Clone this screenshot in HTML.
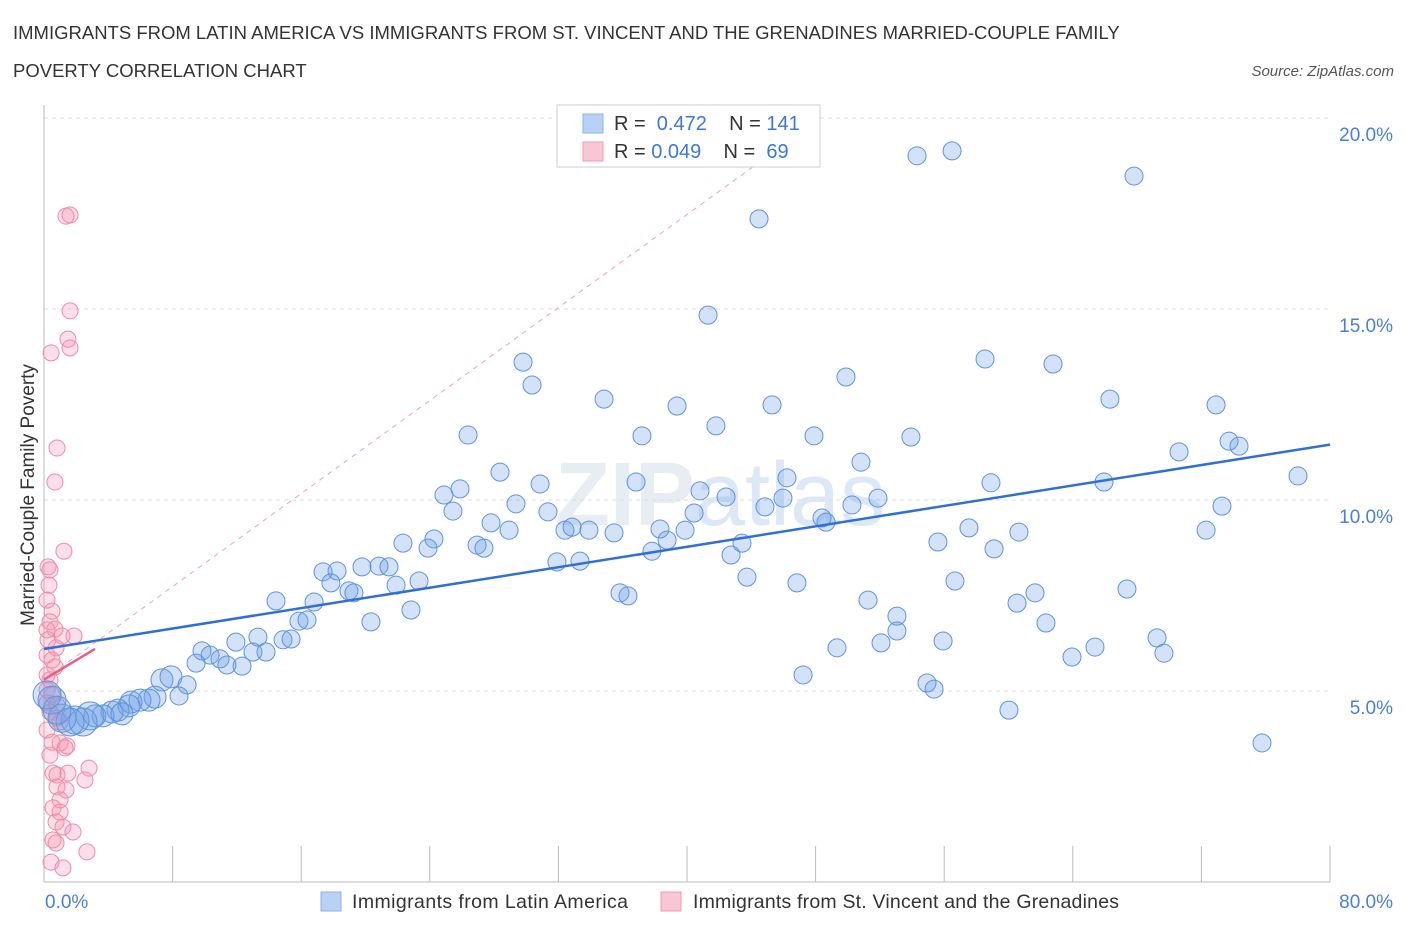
<!DOCTYPE html>
<html><head><meta charset="utf-8"><style>
body{margin:0;background:#fff;font-family:"Liberation Sans",sans-serif;}
</style></head><body>
<svg width="1406" height="930" xmlns="http://www.w3.org/2000/svg">
<text x="13" y="39" font-size="18.5" fill="#333">IMMIGRANTS FROM LATIN AMERICA VS IMMIGRANTS FROM ST. VINCENT AND THE GRENADINES MARRIED-COUPLE FAMILY</text>
<text x="13" y="77" font-size="18.5" fill="#333">POVERTY CORRELATION CHART</text>
<text x="1394" y="76" font-size="15" fill="#555" font-style="italic" text-anchor="end">Source: ZipAtlas.com</text>
<text x="720" y="525" font-size="90" fill="#e8edf3" text-anchor="middle" font-weight="bold">ZIP<tspan fill="#dde8f6" font-weight="normal">atlas</tspan></text>
<g id="grid"></g>
<g id="axes"></g>
<g id="pts"></g>
<g id="lines"></g>
<text transform="translate(34,495) rotate(-90)" font-size="19" fill="#333" text-anchor="middle">Married-Couple Family Poverty</text>
<text x="45" y="908" font-size="19" fill="#4a7fd6">0.0%</text>
<text x="1393" y="908" font-size="19" fill="#4a7fd6" text-anchor="end">80.0%</text>
<g>
<rect x="557" y="105" width="263" height="62" fill="#fff" stroke="#ccc"/>
<rect x="583" y="114" width="20" height="19" fill="#b9d1f4" stroke="#8fb2e8"/>
<rect x="583" y="142" width="20" height="19" fill="#f9c6d5" stroke="#f09ab4"/>
<text x="614" y="130" font-size="20" fill="#333" xml:space="preserve">R =  <tspan fill="#3b78d8">0.472</tspan>    N = <tspan fill="#3b78d8">141</tspan></text>
<text x="614" y="158" font-size="20" fill="#333" xml:space="preserve">R = <tspan fill="#3b78d8">0.049</tspan>    N =  <tspan fill="#3b78d8">69</tspan></text>
</g>
<g>
<rect x="321" y="892" width="20" height="19" fill="#b9d1f4" stroke="#8fb2e8"/>
<text x="352" y="908" font-size="19.5" fill="#333" textLength="276">Immigrants from Latin America</text>
<rect x="661" y="892" width="20" height="19" fill="#f9c6d5" stroke="#f09ab4"/>
<text x="693" y="908" font-size="19.5" fill="#333" textLength="426">Immigrants from St. Vincent and the Grenadines</text>
</g>
</svg>
<script>
const yTicks=[5,10,15,20];
const yTickLabels=["5.0%","10.0%","15.0%","20.0%"];
const xTicks=[0,8,16,24,32,40,48,56,64,72,80];
const bluePx=[[917,156],[952,151],[1134,176],[759,219],[708,315],[523,362],[532,385],[985,359],[1053,364],[846,377],[604,399],[677,406],[772,405],[1110,399],[1216,405],[468,435],[642,436],[716,426],[814,436],[911,437],[1229,441],[1239,446],[1179,452],[500,472],[540,484],[636,482],[861,462],[787,478],[1298,476],[460,489],[444,495],[700,491],[726,497],[783,498],[991,483],[1104,482],[878,498],[852,505],[516,504],[453,511],[548,512],[694,513],[765,507],[1222,506],[491,523],[509,530],[565,530],[572,527],[589,530],[614,533],[660,529],[685,530],[826,522],[822,518],[969,528],[1019,532],[1206,530],[403,543],[434,539],[477,545],[484,548],[667,540],[742,543],[938,542],[994,549],[428,548],[557,562],[580,561],[652,551],[731,555],[323,572],[337,571],[362,567],[379,566],[389,567],[331,583],[349,591],[354,593],[396,585],[419,581],[747,577],[797,583],[955,581],[620,593],[628,596],[1127,589],[1035,593],[276,601],[314,602],[411,610],[868,600],[897,616],[1017,603],[299,621],[307,620],[371,622],[897,631],[283,640],[291,639],[258,637],[236,642],[943,641],[1046,623],[1157,638],[1095,647],[1072,657],[1164,653],[837,648],[881,643],[202,651],[210,655],[220,659],[253,652],[266,652],[227,665],[242,666],[196,663],[803,675],[927,683],[934,689],[1009,710],[1262,743],[162,680],[171,677],[187,685],[179,696],[155,697],[149,700],[140,700],[131,702],[129,706],[118,710],[112,712],[103,716],[95,716],[90,716],[83,722],[75,720],[70,722],[62,718],[52,700],[57,710],[122,714],[47,695]];
const pinkPx=[[66,216],[70,215],[70,311],[68,339],[70,348],[51,353],[57,448],[55,482],[64,551],[48,567],[50,570],[52,611],[50,622],[55,629],[47,630],[74,636],[62,636],[56,648],[47,655],[55,667],[50,680],[47,690],[52,695],[47,703],[50,712],[57,718],[60,722],[47,730],[52,742],[60,743],[67,746],[65,748],[50,755],[89,768],[53,773],[57,775],[68,773],[85,780],[57,787],[66,790],[60,800],[53,808],[60,812],[56,822],[63,827],[73,832],[53,840],[56,843],[87,852],[51,862],[63,868],[49,585],[47,600],[48,640],[52,660],[47,675],[57,705]];
const blueX=bluePx.map(p=>+((p[0]-44)/1286*80).toFixed(2));
const blueY=bluePx.map(p=>+((882-p[1])/191*5).toFixed(2));
const pinkX=pinkPx.map(p=>+((p[0]-44)/1286*80).toFixed(2));
const pinkY=pinkPx.map(p=>+((882-p[1])/191*5).toFixed(2));
const blueTrend=[6.1,11.45];
const pinkTrend=[5.3,6.1];
const pinkDashEnd=[48.3,20];
const NS="http://www.w3.org/2000/svg";
const X=v=>44+v/80*1286, Y=v=>882-v/5*191;
function mk(tag,attrs,parent){const e=document.createElementNS(NS,tag);for(const k in attrs)e.setAttribute(k,attrs[k]);document.getElementById(parent).appendChild(e);return e;}
yTicks.forEach((t,i)=>{
 const l=mk('line',{x1:44,x2:1330,y1:Y(t),y2:Y(t),stroke:'#ddd','stroke-dasharray':'4,4'},'grid');
 
 
 const tx=mk('text',{x:1393,y:Y(t)+23,'font-size':19,fill:'#4a7fd6','text-anchor':'end'},'grid');
 tx.textContent=yTickLabels[i];
 
 
});
const ax=mk('line',{x1:44,x2:44,y1:105,y2:882,stroke:'#bbb'},'axes');


const bx=mk('line',{x1:44,x2:1330,y1:882,y2:882,stroke:'#bbb'},'axes');


xTicks.forEach(t=>{
 const l=mk('line',{x1:X(t),x2:X(t),y1:846,y2:882,stroke:'#bbb'},'axes');
 
 
});
pinkX.forEach((x,i)=>{
 const c=mk('circle',{cx:X(x),cy:Y(pinkY[i]),r:8,fill:'rgba(244,150,180,0.3)',stroke:'#f08aa8','stroke-width':1},'pts');
 
 
});
blueX.forEach((x,i)=>{
 const r=x<3?14:(x<8?11:9);
 const c=mk('circle',{cx:X(x),cy:Y(blueY[i]),r:r,fill:'rgba(110,160,230,0.3)',stroke:'#5e93de','stroke-width':1},'pts');
 
 
});
const bl=mk('line',{x1:X(0),y1:Y(blueTrend[0]),x2:X(80),y2:Y(blueTrend[1]),stroke:'#2f6fd6','stroke-width':2.5},'lines');


const pd=mk('line',{x1:X(0),y1:Y(pinkTrend[0]),x2:X(pinkDashEnd[0]),y2:Y(pinkDashEnd[1]),stroke:'#f0a0b8','stroke-width':1,'stroke-dasharray':'5,5'},'lines');


const pl=mk('line',{x1:X(0),y1:Y(pinkTrend[0]),x2:95,y2:Y(pinkTrend[1]),stroke:'#e8608a','stroke-width':2.5},'lines');


</script>
</body></html>
